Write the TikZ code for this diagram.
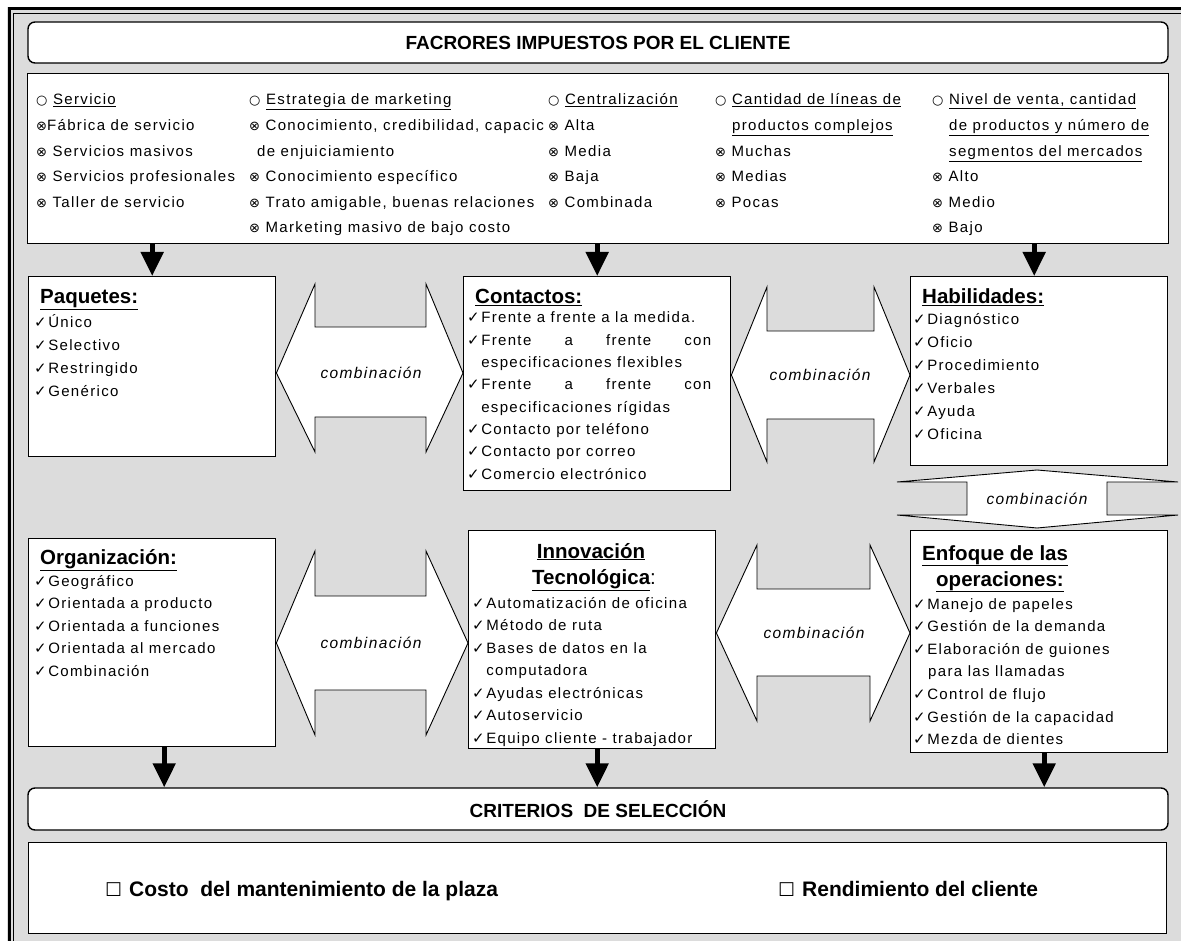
\documentclass[tikz,border=0pt]{standalone}
\usepackage{fontspec}
\setmainfont{Liberation Sans}
\newfontfamily\bodyf{Liberation Sans}[LetterSpace=9]
\newfontfamily\symf{DejaVu Sans}
\usetikzlibrary{arrows.meta}
\definecolor{bggray}{RGB}{220,220,220}
\newcommand\chk{{\symf\fontsize{15}{15}\selectfont ✓}\hspace{1.5pt}}
\newcommand\xbul{{\symf\fontsize{13}{13}\selectfont ⊗}}
\newcommand\cbul{{\symf\fontsize{13}{13}\selectfont ○}}
\newcommand\sqbx{{\symf\fontsize{19}{19}\selectfont ☐}}
\tikzset{
  boxst/.style={draw=black, line width=1.4pt, fill=white, inner sep=0pt},
  txt/.style={inner sep=0pt, anchor=base west, font=\bodyf\fontsize{15}{16}\selectfont},
  headt/.style={inner sep=0pt, anchor=base west, font=\bfseries\fontsize{20.5}{22}\selectfont},
  titlet/.style={font=\bfseries\fontsize{19}{21}\selectfont},
  comb/.style={font=\bodyf\itshape\fontsize{15.5}{16}\selectfont, inner sep=0pt},
  dbl/.style={draw=black, line width=0.9pt, fill=white, line join=miter},
  downarr/.style={line width=5pt, -{Triangle[width=22pt,length=24pt]}},
  crittxt/.style={inner sep=0pt, anchor=base west, font=\bfseries\fontsize{21}{22}\selectfont},
}
\begin{document}
\begin{tikzpicture}[x=1pt,y=-1pt]
\useasboundingbox (0,0) rectangle (1181,941);
\fill[white] (0,0) rectangle (1181,941);
\fill[bggray] (7,7) rectangle (1181,941);
\draw[line width=3pt] (9,941) -- (9,9) -- (1181,9);
\draw[line width=1.2pt] (13.5,941) -- (13.5,13.5) -- (1181,13.5);

% header
\node[boxst, rounded corners=7pt, minimum width=1140pt, minimum height=41pt, titlet] (hdr) at (598,42.5) {FACRORES IMPUESTOS POR EL CLIENTE};
% top box
\node[boxst, anchor=north west, minimum width=1141pt, minimum height=170pt] (tb) at (27,73) {};

\foreach \t [count=\i from 0] in {{\cbul\ \underline{Servicio}},{\xbul Fábrica de servicio},{\xbul\ Servicios masivos},{\xbul\ Servicios profesionales},{\xbul\ Taller de servicio}}
  \node[txt] (ca\i) at (36,105+25.6*\i) {\t};
\foreach \t [count=\i from 0] in {{\cbul\ \underline{Estrategia de marketing}},{\xbul\ Conocimiento, credibilidad, capacic},{\hspace{8pt}de enjuiciamiento},{\xbul\ Conocimiento específico},{\xbul\ Trato amigable, buenas relaciones},{\xbul\ Marketing masivo de bajo costo}}
  \node[txt] (cb\i) at (249,105+25.6*\i) {\t};
\foreach \t [count=\i from 0] in {{\cbul\ \underline{Centralización}},{\xbul\ Alta},{\xbul\ Media},{\xbul\ Baja},{\xbul\ Combinada}}
  \node[txt] (cc\i) at (548,105+25.6*\i) {\t};
\foreach \t [count=\i from 0] in {{\cbul\ \underline{Cantidad de líneas de}},{\hspace{17pt}\underline{productos complejos}},{\xbul\ Muchas},{\xbul\ Medias},{\xbul\ Pocas}}
  \node[txt] (cd\i) at (715,105+25.6*\i) {\t};
\foreach \t [count=\i from 0] in {{\cbul\ \underline{Nivel de venta, cantidad}},{\hspace{17pt}\underline{de productos y número de}},{\hspace{17pt}\underline{segmentos del mercados}},{\xbul\ Alto},{\xbul\ Medio},{\xbul\ Bajo}}
  \node[txt] (ce\i) at (932,105+25.6*\i) {\t};

% middle boxes
\node[boxst, anchor=north west, minimum width=247pt, minimum height=180pt] (pq) at (28,276) {};
\node[boxst, anchor=north west, minimum width=267pt, minimum height=214pt] (ct) at (463,276) {};
\node[boxst, anchor=north west, minimum width=257pt, minimum height=189pt] (hb) at (910,276) {};
\node[boxst, anchor=north west, minimum width=247pt, minimum height=208pt] (org) at (28,538) {};
\node[boxst, anchor=north west, minimum width=247pt, minimum height=218pt] (inn) at (468,530) {};
\node[boxst, anchor=north west, minimum width=257pt, minimum height=222pt] (enf) at (910,530) {};

\node[headt] (pqh) at (40,304) {\underline{Paquetes:}};
\foreach \t [count=\i from 0] in {Único,Selectivo,Restringido,Genérico}
  \node[txt] (pq\i) at (34,327+23.2*\i) {\chk\t};

\node[headt] (cth) at (475,304) {\underline{Contactos:}};
\foreach \t [count=\i from 0] in {{\chk Frente a frente a la medida.},{\chk\makebox[230pt][s]{Frente a frente con}},{\phantom{\chk}especificaciones flexibles},{\chk\makebox[230pt][s]{Frente a frente con}},{\phantom{\chk}especificaciones rígidas},{\chk Contacto por teléfono},{\chk Contacto por correo},{\chk Comercio electrónico}}
  \node[txt] (ct\i) at (467,323+22.3*\i) {\t};

\node[headt] (hbh) at (922,304) {\underline{Habilidades:}};
\foreach \t [count=\i from 0] in {Diagnóstico,Oficio,Procedimiento,Verbales,Ayuda,Oficina}
  \node[txt] (hb\i) at (913,325+22.8*\i) {\chk\t};

\node[headt] (orgh) at (40,564) {\underline{Organización:}};
\foreach \t [count=\i from 0] in {Geográfico,Orientada a producto,Orientada a funciones,Orientada al mercado,Combinación}
  \node[txt] (org\i) at (34,586+22.6*\i) {\chk\t};

\node[headt, anchor=base] (innh) at (591,558) {\underline{Innovación}};
\node[headt, anchor=base] (innh2) at (594,584) {\underline{Tecnológica}\textmd{:}};
\foreach \t [count=\i from 0] in {{\chk Automatización de oficina},{\chk Método de ruta},{\chk Bases de datos en la},{\phantom{\chk}computadora},{\chk Ayudas electrónicas},{\chk Autoservicio},{\chk Equipo cliente - trabajador}}
  \node[txt] (inn\i) at (472,608+22.5*\i) {\t};

\node[headt] (enfh) at (922,560) {\underline{Enfoque de las}};
\node[headt] (enfh2) at (936,586) {\underline{operaciones:}};
\foreach \t [count=\i from 0] in {{\chk Manejo de papeles},{\chk Gestión de la demanda},{\chk Elaboración de guiones},{\hspace{15pt}para las llamadas},{\chk Control de flujo},{\chk Gestión de la capacidad},{\chk Mezda de dientes}}
  \node[txt] (enf\i) at (913,609+22.6*\i) {\t};

% double arrows
\draw[dbl] (pq.east |- 0,373) -- (315,284) -- (315,327) -- (426,327) -- (426,284) -- (ct.west |- 0,373) -- (426,452) -- (426,417) -- (315,417) -- (315,452) -- cycle;
\node[comb] (cb1) at (371,373) {combinación};
\draw[dbl] (ct.east |- 0,375) -- (767,287) -- (767,331) -- (874,331) -- (874,287) -- (hb.west |- 0,375) -- (874,462) -- (874,419) -- (767,419) -- (767,462) -- cycle;
\node[comb] (cb2) at (820,375) {combinación};
\draw[dbl] (org.east |- 0,643) -- (315,551) -- (315,596) -- (426,596) -- (426,551) -- (inn.west |- 0,643) -- (426,735) -- (426,690) -- (315,690) -- (315,735) -- cycle;
\node[comb] (cb3) at (371,643) {combinación};
\draw[dbl] (inn.east |- 0,633) -- (757,545) -- (757,589) -- (870,589) -- (870,545) -- (enf.west |- 0,633) -- (870,721) -- (870,676) -- (757,676) -- (757,721) -- cycle;
\node[comb] (cb4) at (814,633) {combinación};
\draw[dbl] (1037,470) -- (1178,482) -- (1107,482) -- (1107,515) -- (1178,515) -- (1037,528) -- (897,515) -- (967,515) -- (967,482) -- (897,482) -- cycle;
\node[comb] (cb5) at (1037,499) {combinación};

% bottom
\node[boxst, rounded corners=7pt, minimum width=1140pt, minimum height=42pt, titlet] (crit) at (598,809) {CRITERIOS\ \ DE SELECCIÓN};
\node[boxst, anchor=north west, minimum width=1138pt, minimum height=91pt] (bot) at (28,842) {};
\node[crittxt] (k1) at (105,896) {\sqbx\hspace{7pt}Costo\ \ del mantenimiento de la plaza};
\node[crittxt] (k2) at (778,896) {\sqbx\hspace{7pt}Rendimiento del cliente};

% down arrows
\draw[downarr] (tb.south -| pq.north) -- (pq.north);
\draw[downarr] (tb.south -| ct.north) -- (ct.north);
\draw[downarr] ([xshift=-5pt]tb.south -| hb.north) -- ([xshift=-5pt]hb.north);
\draw[downarr] ([xshift=12pt]org.south) -- ([xshift=12pt]org.south |- crit.north);
\draw[downarr] ([xshift=5pt]inn.south) -- ([xshift=5pt]inn.south |- crit.north);
\draw[downarr] ([xshift=5pt]enf.south) -- ([xshift=5pt]enf.south |- crit.north);
\end{tikzpicture}
\end{document}
